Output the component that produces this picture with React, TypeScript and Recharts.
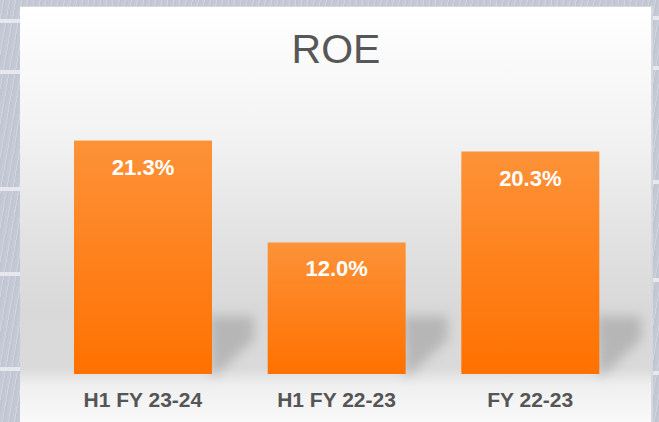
import React from 'react';
import { BarChart, Bar, XAxis, YAxis, LabelList } from 'recharts';

const periods = ['H1 FY 23-24', 'H1 FY 22-23', 'FY 22-23'];
const roeValues = [21.3, 12.0, 20.3];

const data = periods.map((period, i) => ({ period, roe: roeValues[i] }));

const FONT = '"Liberation Sans", Arial, sans-serif';

// bar with a soft diagonal shadow behind its lower right side
const ShadowBar = (props: any) => {
  const { x, y, width, height } = props;
  const r = x + width;
  const b = y + height;
  return (
    <g>
      <polygon
        points={`${r - 4},${b - 58} ${r + 42},${b - 58} ${r + 42},${b - 34} ${r},${b + 4}`}
        fill="#9a9a9a"
        opacity={0.55}
        filter="url(#barShadow)"
      />
      <rect x={x} y={y} width={width} height={height} fill="url(#barFill)" />
    </g>
  );
};

const ValueLabel = (props: any) => {
  const { x, y, width, value } = props;
  return (
    <text
      x={x + width / 2}
      y={y + 34}
      textAnchor="middle"
      fill="#ffffff"
      fontSize={22}
      fontWeight="bold"
      fontFamily={FONT}
    >
      {value.toFixed(1)}%
    </text>
  );
};

// light frame lines of the panel picture behind the card
const leftBands = [21, 72, 189, 274, 369];
const rightBands = [18, 68, 182, 280, 373];

export default function App() {
  return (
    <div style={{ position: 'fixed', left: 0, top: 0, width: 659, height: 422, overflow: 'hidden' }}>
      <div
        style={{
          position: 'absolute',
          inset: 0,
          background:
            'repeating-linear-gradient(100deg, #c4c9d5 0px, #c4c9d5 3px, #d0d4de 3px, #d0d4de 4px, #bfc5d1 4px, #bfc5d1 6px)',
        }}
      />
      {leftBands.map((b) => (
        <div key={'l' + b} style={{ position: 'absolute', left: 0, top: b - 2, width: 20, height: 4, background: '#e6e8ee' }} />
      ))}
      {rightBands.map((b) => (
        <div key={'r' + b} style={{ position: 'absolute', left: 653, top: b - 2, width: 6, height: 4, background: '#e6e8ee' }} />
      ))}
      <div
        style={{
          position: 'absolute',
          left: 20,
          top: 6,
          width: 631,
          height: 420,
          borderTop: '1px solid #d8d8d8',
          borderRight: '2px solid #d8d8d8',
          background:
            'linear-gradient(to bottom, #ffffff 0%, #f3f3f3 30%, #e2e2e2 55%, #d9d9d9 72%, #dadada 86%, #efefef 90%, #fbfbfb 100%)',
        }}
      />
      <svg width={659} height={422} style={{ position: 'absolute', left: 0, top: 0 }}>
        <text x={336} y={63} textAnchor="middle" fill="#575757" fontSize={41} fontFamily={FONT}>
          ROE
        </text>
      </svg>
      <div style={{ position: 'absolute', left: 0, top: 0 }}>
        <BarChart width={659} height={422} data={data} margin={{ top: 100, right: 32, left: 46, bottom: 0 }}>
          <defs>
            <linearGradient id="barFill" x1="0" y1="0" x2="0" y2="1">
              <stop offset="0%" stopColor="#fd9238" />
              <stop offset="100%" stopColor="#ff7100" />
            </linearGradient>
            <filter id="barShadow" x="-50%" y="-50%" width="200%" height="200%">
              <feGaussianBlur stdDeviation="6" />
            </filter>
          </defs>
          <XAxis
            dataKey="period"
            axisLine={false}
            tickLine={false}
            tickSize={0}
            tickMargin={18}
            height={48}
            interval={0}
            tick={{ fill: '#555555', fontSize: 21, fontWeight: 'bold', fontFamily: FONT }}
          />
          <YAxis hide domain={[0, 25]} />
          <Bar dataKey="roe" barSize={138} shape={ShadowBar} isAnimationActive={false}>
            <LabelList dataKey="roe" content={ValueLabel} />
          </Bar>
        </BarChart>
      </div>
    </div>
  );
}
